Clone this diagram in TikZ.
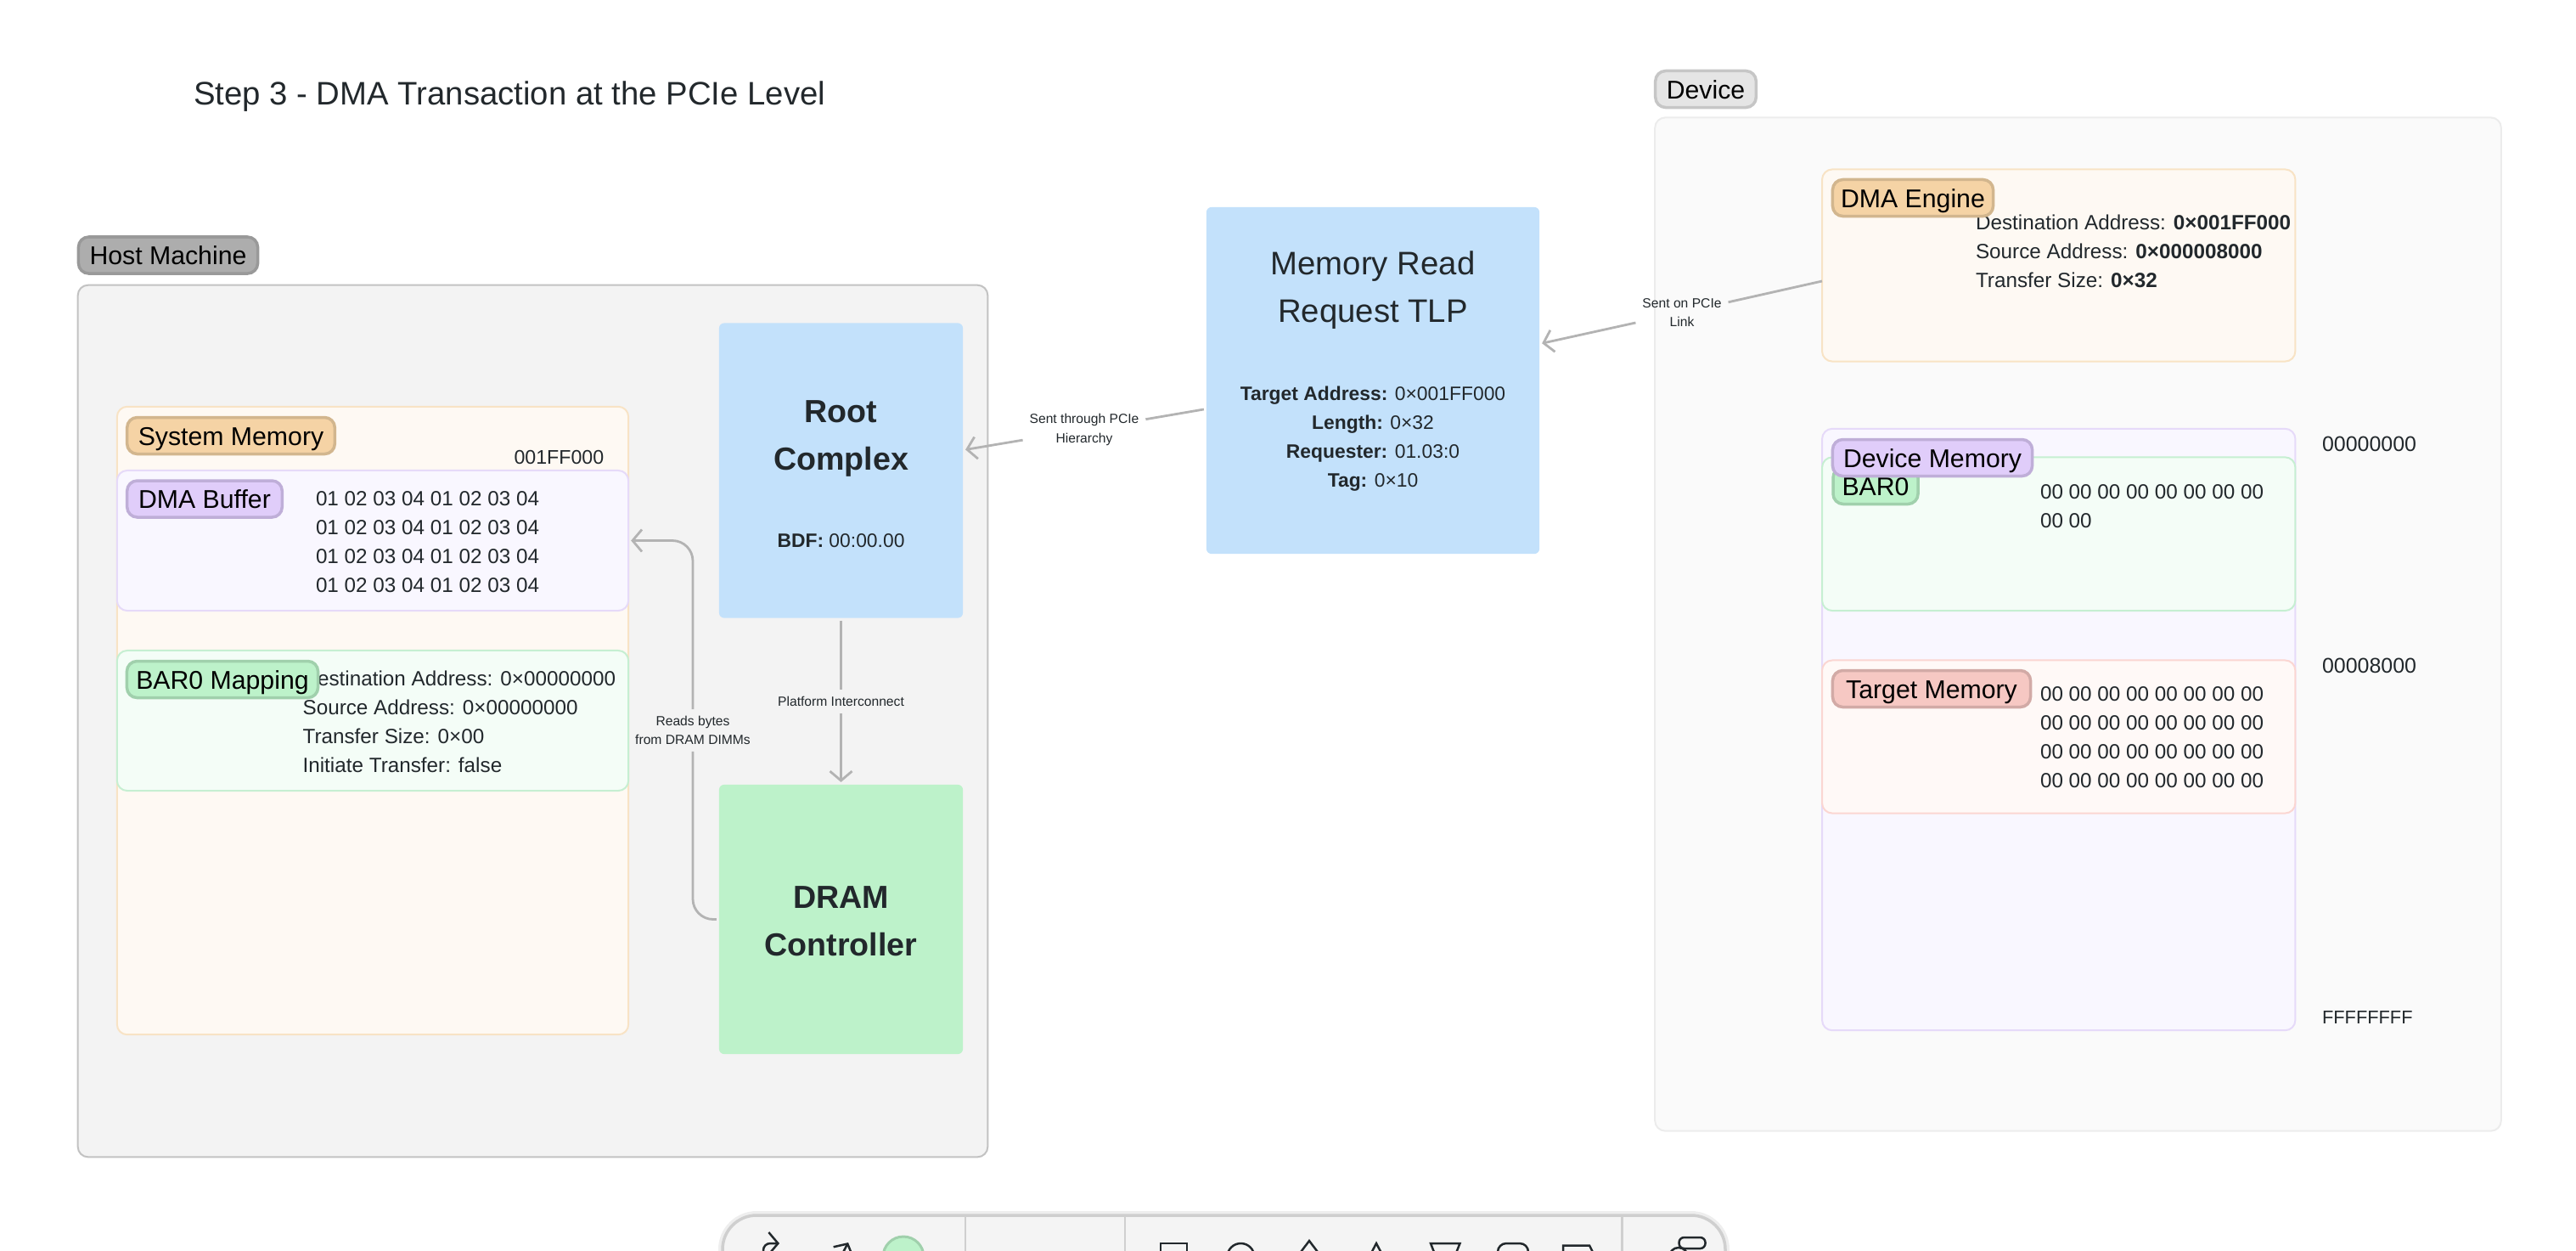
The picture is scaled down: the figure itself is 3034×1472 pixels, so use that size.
\documentclass[tikz,border=0pt]{standalone}
\usepackage{fontspec}
\setmainfont{Liberation Sans}
\usetikzlibrary{arrows.meta}
\definecolor{inkdark}{HTML}{22282C}
\definecolor{wirecol}{HTML}{B3B3B3}
\definecolor{hostfill}{HTML}{F3F3F3}
\definecolor{hostline}{HTML}{C2C2C2}
\definecolor{hosttagfill}{HTML}{ADADAD}
\definecolor{hosttagline}{HTML}{999999}
\definecolor{devfill}{HTML}{FAFAFA}
\definecolor{devline}{HTML}{ECECEC}
\definecolor{devtagfill}{HTML}{E5E5E5}
\definecolor{devtagline}{HTML}{C6C6C6}
\definecolor{amberfill}{HTML}{FEF9F3}
\definecolor{amberline}{HTML}{F8E3C5}
\definecolor{ambertagfill}{HTML}{F5D3A5}
\definecolor{ambertagline}{HTML}{D2B68E}
\definecolor{violetfill}{HTML}{F9F7FF}
\definecolor{violetline}{HTML}{E6DAF9}
\definecolor{violettagfill}{HTML}{E0CDFA}
\definecolor{violettagline}{HTML}{BFAED8}
\definecolor{mintfill}{HTML}{F4FDF7}
\definecolor{mintline}{HTML}{C6EFD2}
\definecolor{minttagfill}{HTML}{BDF2CA}
\definecolor{minttagline}{HTML}{A0D0AC}
\definecolor{rosefill}{HTML}{FFF9F7}
\definecolor{roseline}{HTML}{FBD6D2}
\definecolor{rosetagfill}{HTML}{F6C8C3}
\definecolor{rosetagline}{HTML}{D2AAA6}
\definecolor{blockblue}{HTML}{C3E1FB}
\definecolor{blockgreen}{HTML}{BDF2CA}
\definecolor{barfill}{HTML}{F4F4F4}
\definecolor{barline}{HTML}{CFCFCF}
\begin{document}
\begin{tikzpicture}[x=0.01cm, y=-0.01cm, >={Straight Barb[length=0.11cm,width=0.26cm]},
    every node/.style={inner sep=0pt, outer sep=0.03cm, text=inkdark},
    region/.style 2 args={draw=#2, fill=#1, line width=0.02cm, rounded corners=0.12cm},
    block/.style={fill=#1, rounded corners=0.06cm},
    tagbox/.style 2 args={draw=#2, fill=#1, line width=0.035cm, rounded corners=0.12cm, minimum height=0.43cm, text height=0.22cm, text depth=0pt, text=black, font=\fontsize{8.6}{11}\selectfont},
    body/.style={align=left, anchor=west, outer sep=0pt, font=\fontsize{6.9}{9.67}\selectfont},
    addr/.style={anchor=west, outer sep=0pt, font=\fontsize{7.1}{9.67}\selectfont},
    wirelabel/.style={align=center, inner sep=0.08cm, outer sep=0pt, font=\fontsize{4.45}{6.3}\selectfont},
    wire/.style={draw=wirecol, line width=0.028cm},
    heading/.style={align=center, font=\fontsize{10.9}{15.9}\selectfont},
    headingb/.style={align=center, font=\fontsize{10.7}{15.9}\selectfont\bfseries},
    fields/.style={align=center, font=\fontsize{6.5}{9.67}\selectfont},
    icon/.style={draw=inkdark, line width=0.025cm}]
  \useasboundingbox (0,0) rectangle (3034,1472);

  \def\dmarow{01 02 03 04 01 02 03 04}
  \def\zerorow{00 00 00 00 00 00 00 00}

  \node[anchor=west, outer sep=0pt, font=\fontsize{10.9}{13}\selectfont] (steptitle) at (228,114) {Step 3 - DMA Transaction at the PCIe Level};

  % host side
  \node[region={hostfill}{hostline}, minimum width=10.71cm, minimum height=10.26cm] (host) at (627.5,849) {};
  \node[tagbox={hosttagfill}{hosttagline}, minimum width=2.11cm] (hosttag) at (198,300.5) {Host Machine};

  \node[region={amberfill}{amberline}, minimum width=6.02cm, minimum height=7.39cm] (sysmem) at (439,848.5) {};
  \node[tagbox={ambertagfill}{ambertagline}, minimum width=2.445cm] (systag) at (272,513) {System Memory};
  \node[addr, font=\fontsize{6.6}{9.67}\selectfont] (bufaddr) at (605.5,538) {001FF000};

  \node[region={violetfill}{violetline}, minimum width=6.02cm, minimum height=1.65cm] (dmabuf) at (439,636.5) {};
  \node[tagbox={violettagfill}{violettagline}, minimum width=1.825cm] (buftag) at (241,587.5) {DMA Buffer};
  \node[body] (bufbytes) at (372,638) {\dmarow\\\dmarow\\\dmarow\\\dmarow};

  \node[region={mintfill}{mintline}, minimum width=6.02cm, minimum height=1.65cm] (barmap) at (439,848.5) {};
  \node[body] (barregs) at (356.6,849.5) {Destination Address: 0×00000000\\Source Address: 0×00000000\\Transfer Size: 0×00\\Initiate Transfer: false};
  \node[tagbox={minttagfill}{minttagline}, minimum width=2.25cm] (bartag) at (262,800) {BAR0 Mapping};

  \node[block=blockblue, minimum width=2.87cm, minimum height=3.47cm] (rootcx) at (990.5,554) {};
  \node[headingb] (roottitle) at (990.5,516) {Root\\Complex};
  \node[fields] (rootbdf) at (990.5,637) {\textbf{BDF:} 00:00.00};

  \node[block=blockgreen, minimum width=2.87cm, minimum height=3.17cm] (dram) at (990.5,1082.5) {};
  \node[headingb] (dramtitle) at (990.5,1085) {DRAM\\Controller};

  \node[wirelabel] (readslabel) at (816,860) {Reads bytes\\from DRAM DIMMs};
  \node[wirelabel] (platlabel) at (990.5,826) {Platform Interconnect};
  \draw[wire, rounded corners=0.24cm] (dram.west) -| (readslabel);
  \draw[wire, ->, rounded corners=0.24cm] (readslabel) |- (dmabuf.east);
  \draw[wire] (rootcx) -- (platlabel);
  \draw[wire, ->] (platlabel) -- (dram);

  % the TLP in between
  \node[block=blockblue, minimum width=3.92cm, minimum height=4.08cm] (tlp) at (1617,448) {};
  \node[heading] (tlptitle) at (1617,342) {Memory Read\\Request TLP};
  \node[fields] (tlpfields) at (1617,517) {\textbf{Target Address:} 0×001FF000\\\textbf{Length:} 0×32\\\textbf{Requester:} 01.03:0\\\textbf{Tag:} 0×10};

  % device side
  \node[region={devfill}{devline}, minimum width=9.96cm, minimum height=11.925cm] (device) at (2447.5,735) {};
  \node[tagbox={devtagfill}{devtagline}, minimum width=1.185cm] (devtag) at (2009,105) {Device};

  \node[region={amberfill}{amberline}, minimum width=5.57cm, minimum height=2.26cm] (dmaeng) at (2424.7,312.5) {};
  \node[body] (engregs) at (2327,296) {Destination Address: \textbf{0×001FF000}\\Source Address: \textbf{0×000008000}\\Transfer Size: \textbf{0×32}};
  \node[tagbox={ambertagfill}{ambertagline}, minimum width=1.89cm] (engtag) at (2253,233) {DMA Engine};

  \node[region={violetfill}{violetline}, minimum width=5.57cm, minimum height=7.08cm] (devmem) at (2424.7,859) {};
  \node[region={mintfill}{mintline}, minimum width=5.57cm, minimum height=1.806cm] (barzero) at (2424.7,628.7) {};
  \node[tagbox={minttagfill}{minttagline}, minimum width=1cm] (zerotag) at (2209,572) {BAR0};
  \node[tagbox={violettagfill}{violettagline}, minimum width=2.35cm] (memtag) at (2276,539) {Device Memory};
  \node[body] (zerobytes) at (2403,596) {\zerorow\\00 00};

  \node[region={rosefill}{roseline}, minimum width=5.57cm, minimum height=1.8cm] (tgtmem) at (2424.7,867.5) {};
  \node[tagbox={rosetagfill}{rosetagline}, minimum width=2.33cm] (tgttag) at (2275,811) {Target Memory};
  \node[body] (tgtbytes) at (2403,868) {\zerorow\\\zerorow\\\zerorow\\\zerorow};

  \node[addr] (addrlow) at (2735,523) {00000000};
  \node[addr] (addrtgt) at (2735,783.5) {00008000};
  \node[addr, font=\fontsize{6.2}{9.67}\selectfont] (addrtop) at (2735,1198) {FFFFFFFF};

  \node[wirelabel] (hierlabel) at (1277,506) {Sent through PCIe\\Hierarchy};
  \draw[wire] (tlp) -- (hierlabel);
  \draw[wire, ->] (hierlabel) -- (rootcx);

  \coordinate (engout) at (2146,331);
  \node[wirelabel] (linklabel) at (1981,368) {Sent on PCIe\\Link};
  \draw[wire] (engout) -- (linklabel);
  \draw[wire, ->] (linklabel) -- (tlp);

  % toolbar at the bottom edge
  \begin{scope}
    \clip (0,0) rectangle (3034,1472);
    \draw[draw=barline!35, line width=0.1cm, rounded corners=0.4cm] (851,1520) -- (851,1431) -- (2032,1431) -- (2032,1520);
    \draw[fill=barfill, draw=barline, line width=0.035cm, rounded corners=0.4cm] (851,1520) -- (851,1431) -- (2032,1431) -- (2032,1520);
    \foreach \sepx in {1137,1325,1910.5}
      \draw[barline, line width=0.025cm] (\sepx,1431) -- (\sepx,1480);
    \draw[icon, ->, rounded corners=0.08cm] (899,1490) -- (899,1464) -- (918,1464);
    \draw[icon, ->] (985,1490) -- (999,1463);
    \draw[fill=blockgreen, draw=minttagline, line width=0.03cm] (1064,1480) circle (24);
    \draw[icon] (1367,1490) rectangle (1398,1464);
    \draw[icon] (1461.4,1480) circle (16);
    \draw[icon] (1542,1461) -- (1564,1490) -- (1520,1490) -- cycle;
    \draw[icon] (1621,1464) -- (1640,1500) -- (1602,1500) -- cycle;
    \draw[icon] (1685,1464) -- (1719.5,1464) -- (1705,1500) -- (1699,1500) -- cycle;
    \draw[icon, rounded corners=0.1cm] (1764,1490) -- (1764,1464) -- (1800,1464) -- (1800,1490);
    \draw[icon] (1841,1466.5) -- (1872,1466.5) -- (1884,1490) -- (1841,1490) -- cycle;
    \draw[icon] (1977,1480) circle (11);
    \draw[icon, fill=barfill, rounded corners=0.06cm] (1977.5,1457) rectangle (2008.5,1470);
  \end{scope}
\end{tikzpicture}
\end{document}
